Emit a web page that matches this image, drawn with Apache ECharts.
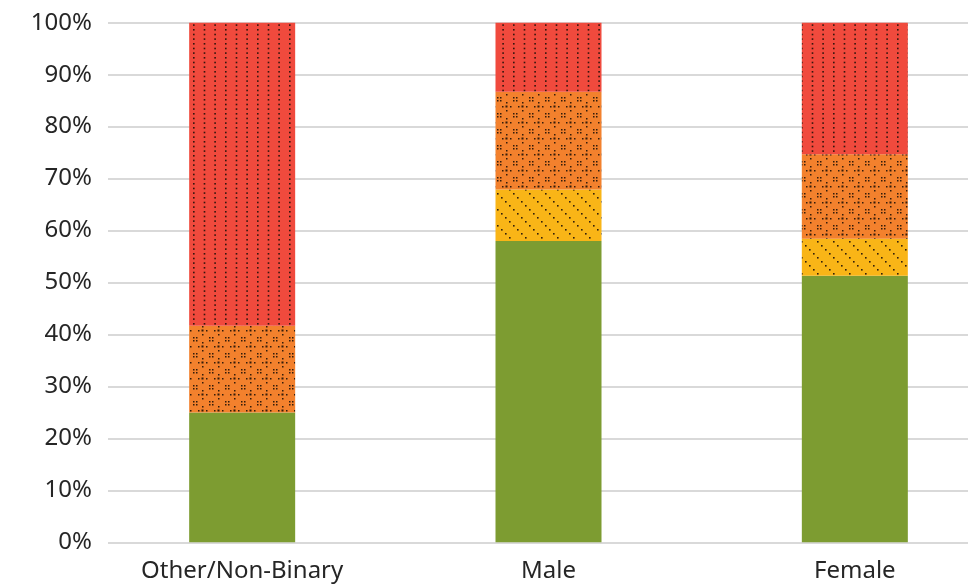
<!DOCTYPE html>
<html>
<head>
<meta charset="utf-8">
<script src="https://cdn.jsdelivr.net/npm/echarts@6/dist/echarts.min.js"></script>
<style>
  html, body { margin: 0; padding: 0; background: #ffffff; }
  #chart { width: 980px; height: 586px; }
</style>
</head>
<body>
<div id="chart"></div>
<script>
// Categories and stacked shares (percent of each group)
const categories = ['Other/Non-Binary', 'Male', 'Female'];
const greenShare  = [25.0, 58.0, 51.3];
const yellowShare = [0.0,   9.9,  7.1];
const orangeShare = [16.7, 18.8, 16.3];
const redShare    = [58.3, 13.3, 25.3];
const yTickValues = [0, 10, 20, 30, 40, 50, 60, 70, 80, 90, 100];

const FONT = '"Noto Sans", "Open Sans", sans-serif';
const TEXT = '#262626';
const DOT = 'rgba(30, 15, 8, 0.9)';

// Build a repeating tile drawn on a small canvas
function tile(w, h, bg, draw) {
  const c = document.createElement('canvas');
  c.width = w; c.height = h;
  const g = c.getContext('2d');
  g.fillStyle = bg;
  g.fillRect(0, 0, w, h);
  g.fillStyle = DOT;
  draw(g);
  return { image: c, repeat: 'repeat' };
}

const greenFill = '#7d9c31';

// diagonal dotted lines running down-right
const yellowFill = tile(16, 16, '#f9b517', g => {
  for (let k = 0; k < 4; k++) g.fillRect(k * 4 + 1, k * 4 + 1, 1.6, 1.6);
});

// small 2x2 dot clusters with a dotted diamond between them
const orangeFill = tile(16, 16, '#f3812d', g => {
  [[1, 1], [4, 1], [1, 4], [4, 4]].forEach(p => g.fillRect(p[0], p[1], 1.5, 1.5));
  [[10, 6], [6, 10], [14, 10], [10, 14]].forEach(p => g.fillRect(p[0], p[1], 1.5, 1.5));
  g.fillRect(9.5, 9.5, 2, 2);
});

// dotted vertical columns
const redFill = tile(32, 14, '#f04a3d', g => {
  [1, 11.7, 22.3].forEach(x => {
    [1, 5.7, 10.3].forEach(y => g.fillRect(x, y, 1.6, 1.6));
  });
});

const chart = echarts.init(document.getElementById('chart'), null, { renderer: 'canvas' });

const plotTop = 22.7;
const plotHeight = 519.6;

function barSeries(name, data, color) {
  return {
    name: name,
    type: 'bar',
    stack: 'share',
    xAxisIndex: 1,
    yAxisIndex: 1,
    barWidth: 106,
    data: data,
    itemStyle: { color: color },
    emphasis: { disabled: true }
  };
}

chart.setOption({
  animation: false,
  backgroundColor: '#ffffff',
  grid: [
    { left: 108, width: 860, top: plotTop, height: plotHeight, outerBoundsMode: 'none' },
    { left: 89, width: 919, top: plotTop, height: plotHeight, outerBoundsMode: 'none' }
  ],
  xAxis: [
    { type: 'category', gridIndex: 0, data: categories, show: false },
    {
      type: 'category', gridIndex: 1, data: categories,
      axisLine: { show: false }, axisTick: { show: false },
      axisLabel: { fontFamily: FONT, fontSize: 24, color: TEXT, margin: 17 }
    }
  ],
  yAxis: [
    {
      type: 'value', gridIndex: 0,
      min: yTickValues[0], max: yTickValues[yTickValues.length - 1], interval: 10,
      axisLine: { show: false }, axisTick: { show: false },
      axisLabel: { fontFamily: FONT, fontSize: 24, color: TEXT, margin: 16, formatter: '{value}%' },
      splitLine: { lineStyle: { color: '#d9d9d9', width: 2 } }
    },
    { type: 'value', gridIndex: 1, min: 0, max: 100, show: false }
  ],
  series: [
    barSeries('Band 1', greenShare, greenFill),
    barSeries('Band 2', yellowShare, yellowFill),
    barSeries('Band 3', orangeShare, orangeFill),
    barSeries('Band 4', redShare, redFill)
  ]
});
</script>
</body>
</html>
